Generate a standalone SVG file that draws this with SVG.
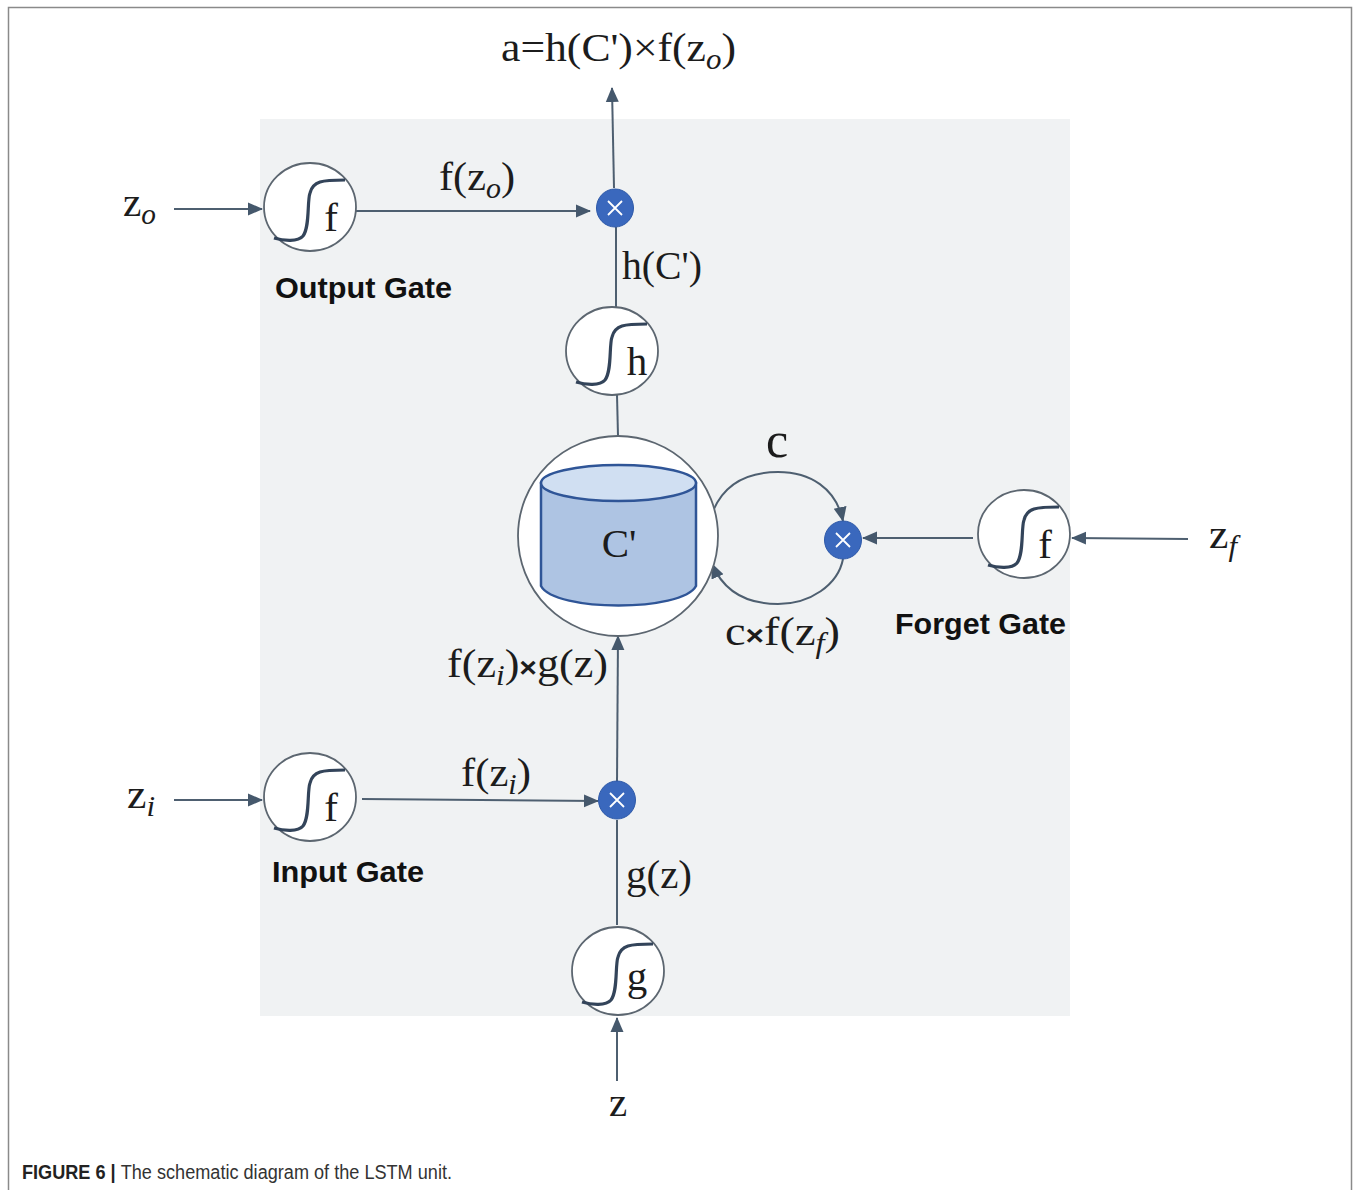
<svg xmlns="http://www.w3.org/2000/svg" width="1360" height="1190" viewBox="0 0 1360 1190">
<style>
.m{font-family:"Liberation Serif","Times New Roman",serif;fill:#1c1c1c;font-size:41px}
.s{font-family:"Liberation Serif","Times New Roman",serif;font-style:italic;font-size:29px}
.b{font-weight:700;font-family:"Liberation Sans",Arial,sans-serif;font-size:28px}
.g{font-family:"Liberation Sans",Arial,sans-serif;font-weight:700;font-size:30px;fill:#111}
.c{fill:none;stroke:#4e5f70;stroke-width:2}
.r{fill:#fff;stroke:#5c6670;stroke-width:1.800}
.sg{fill:none;stroke:#33445a;stroke-width:3.200}
.x{fill:#3a68bd;stroke:#2f5aa8;stroke-width:1}
.xx{stroke:#fff;stroke-width:1.800;fill:none}
</style>
<defs>
<marker id="a" markerUnits="userSpaceOnUse" markerWidth="16" markerHeight="16" refX="14" refY="8" orient="auto"><path d="M0 1.500 L15 8 L0 14.500 Z" fill="#45586c"/></marker>
<g id="sig"><path class="sg" d="M-36 31 C-26 34 -12 35 -7 29 C0 20 -3 -6 0 -14 C3 -26 12 -27 35 -27"/></g>
<g id="mul"><ellipse class="x" rx="18.500" ry="19"/><path class="xx" d="M-7 -7 L7 7 M7 -7 L-7 7"/></g>
</defs>
<rect width="1360" height="1190" fill="#fff"/>
<path d="M8.500 1190 V7.500 H1351.500 V1190" fill="none" stroke="#8a8a8a" stroke-width="1.500"/>
<rect x="260" y="119" width="810" height="897" fill="#f0f2f3"/>
<g id="connectors">
<path class="c" d="M174 209 H262" marker-end="url(#a)"/>
<path class="c" d="M356 211 H590" marker-end="url(#a)"/>
<path class="c" d="M614 188 L612 88" marker-end="url(#a)"/>
<path class="c" d="M616 227 V308"/>
<path class="c" d="M617 395 L618 436"/>
<path class="c" d="M174 800 H262" marker-end="url(#a)"/>
<path class="c" d="M362 799 L598 801" marker-end="url(#a)"/>
<path class="c" d="M617 782 L618 636" marker-end="url(#a)"/>
<path class="c" d="M617 820 V925"/>
<path class="c" d="M617 1081 V1018" marker-end="url(#a)"/>
<path class="c" d="M1188 539 L1072 538" marker-end="url(#a)"/>
<path class="c" d="M973 538 H863" marker-end="url(#a)"/>
<path class="c" d="M713 511 C725 482 750 472 778 472 C810 472 836 488 843 521" marker-end="url(#a)"/>
<path class="c" d="M843 559 C838 585 810 604 778 604 C748 604 724 592 712 564" marker-end="url(#a)"/>
</g>
<g id="node-output-f"><ellipse class="r" cx="310" cy="207" rx="46" ry="44"/><use href="#sig" x="310" y="207"/><text class="m" x="331" y="231" text-anchor="middle">f</text></g>
<g id="node-input-f"><ellipse class="r" cx="310" cy="797" rx="46" ry="44"/><use href="#sig" x="310" y="797"/><text class="m" x="331" y="821" text-anchor="middle">f</text></g>
<g id="node-h"><ellipse class="r" cx="612" cy="351" rx="46" ry="44"/><use href="#sig" x="612" y="351"/><text class="m" x="637" y="375" text-anchor="middle">h</text></g>
<g id="node-g"><ellipse class="r" cx="618" cy="971" rx="46" ry="44"/><use href="#sig" x="618" y="971"/><text class="m" x="637" y="990" text-anchor="middle">g</text></g>
<g id="node-forget-f"><ellipse class="r" cx="1024" cy="534" rx="46" ry="44"/><use href="#sig" x="1024" y="534"/><text class="m" x="1045" y="558" text-anchor="middle">f</text></g>
<g id="node-cell">
<circle class="r" cx="618" cy="536" r="100"/>
<path d="M541 483 V586 C555 612 682 612 696 586 V483 Z" fill="#aec4e3" stroke="#2f5597" stroke-width="2.500"/>
<ellipse cx="618.500" cy="483" rx="77.500" ry="18" fill="#d0dff2" stroke="#2f5597" stroke-width="2.500"/>
<text class="m" x="619" y="557" text-anchor="middle">C'</text>
</g>
<use id="node-mul-output" href="#mul" x="615" y="208"/>
<use id="node-mul-input" href="#mul" x="617" y="800"/>
<use id="node-mul-forget" href="#mul" x="843" y="540"/>
<g id="labels">
<text class="m" x="501" y="61" textLength="235" lengthAdjust="spacingAndGlyphs">a=h(C')×f(z<tspan class="s" dy="8">o</tspan><tspan dy="-8">)</tspan></text>
<text class="m" x="123" y="216" textLength="33" lengthAdjust="spacingAndGlyphs">z<tspan class="s" dy="8">o</tspan></text>
<text class="m" x="439" y="190" textLength="76" lengthAdjust="spacingAndGlyphs">f(z<tspan class="s" dy="8">o</tspan><tspan dy="-8">)</tspan></text>
<text class="m" x="622" y="279" textLength="80" lengthAdjust="spacingAndGlyphs">h(C')</text>
<text class="g" x="275" y="298" textLength="177" lengthAdjust="spacingAndGlyphs">Output Gate</text>
<text x="777" y="457" text-anchor="middle" style="font-family:'Liberation Serif',serif;font-size:50px;fill:#1c1c1c">c</text>
<text class="m" x="725" y="645" textLength="115" lengthAdjust="spacingAndGlyphs">c<tspan class="b">×</tspan>f(z<tspan class="s" dy="8">f</tspan><tspan dy="-8">)</tspan></text>
<text class="g" x="895" y="634" textLength="171" lengthAdjust="spacingAndGlyphs">Forget Gate</text>
<text class="m" x="1209" y="548" textLength="28" lengthAdjust="spacingAndGlyphs">z<tspan class="s" dy="8">f</tspan></text>
<text class="m" x="447" y="677" textLength="161" lengthAdjust="spacingAndGlyphs">f(z<tspan class="s" dy="8">i</tspan><tspan dy="-8">)</tspan><tspan class="b">×</tspan>g(z)</text>
<text class="m" x="127" y="808" textLength="28" lengthAdjust="spacingAndGlyphs">z<tspan class="s" dy="8">i</tspan></text>
<text class="m" x="461" y="786" textLength="70" lengthAdjust="spacingAndGlyphs">f(z<tspan class="s" dy="8">i</tspan><tspan dy="-8">)</tspan></text>
<text class="g" x="272" y="882" textLength="152" lengthAdjust="spacingAndGlyphs">Input Gate</text>
<text class="m" x="626" y="888" textLength="66" lengthAdjust="spacingAndGlyphs">g(z)</text>
<text class="m" x="618" y="1116" text-anchor="middle">z</text>
<text x="22" y="1179" textLength="430" lengthAdjust="spacingAndGlyphs" style="font-family:'Liberation Sans',Arial,sans-serif;font-size:19.500px;fill:#333"><tspan font-weight="700" fill="#222">FIGURE 6 | </tspan>The schematic diagram of the LSTM unit.</text>
</g>
</svg>
